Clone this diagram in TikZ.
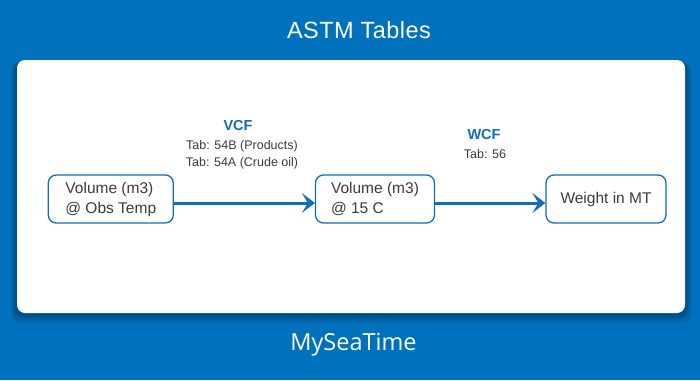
\documentclass[tikz,border=0pt]{standalone}
\usepackage{fontspec}
\setmainfont{Liberation Sans}
\newfontfamily\footfont{Open Sans}
\usetikzlibrary{arrows.meta}
\definecolor{bgblue}{RGB}{0,113,188}
\definecolor{lineblue}{RGB}{18,110,182}
\definecolor{txtgray}{RGB}{60,60,60}
\tikzset{
  flowbox/.style={draw=lineblue, line width=1.3pt, rounded corners=8pt, fill=white,
    minimum height=48pt, inner xsep=4pt, inner ysep=0pt, text=txtgray,
    font=\fontsize{15.5}{20}\selectfont},
  flowarrow/.style={draw=lineblue, line width=3pt,
    -{Stealth[length=13pt,width=20pt,inset=6pt]}},
  factor/.style={text=lineblue, font=\fontsize{14.5}{16}\selectfont\bfseries},
  tabtxt/.style={text=txtgray, font=\fontsize{12.5}{17}\selectfont, align=center, inner sep=0pt}
}
\begin{document}
\begin{tikzpicture}[x=1pt,y=-1pt]
\useasboundingbox (0,0) rectangle (700,380);
\fill[bgblue] (0,0) rectangle (700,380);
% shadow
\foreach \i in {1,...,10}{
  \fill[black, opacity=0.035, rounded corners=8pt]
    (17-\i*0.6,60+2) rectangle (685+\i*0.6,313+\i*1.0);
}
\fill[white, rounded corners=8pt] (17,60) rectangle (685,313);
\node[text=white, font=\fontsize{23.5}{26}\selectfont\addfontfeature{LetterSpace=2}] (title) at (359,30) {ASTM Tables};
\node[text=white, font=\footfont\fontsize{23.5}{26}\selectfont] (foot) at (353.5,345) {MySeaTime};

\node[flowbox, minimum width=125pt, align=left] (b1) at (110.8,199) {Volume (m3)\\@ Obs Temp};
\node[flowbox, minimum width=119pt, align=left] (b2) at (375,199) {Volume (m3)\\@ 15 C};
\node[flowbox, minimum width=120pt, align=center] (b3) at (606,199) {Weight in MT};

\draw[flowarrow] ([yshift=-4pt]b1.east) -- ([yshift=-4pt]b2.west);
\draw[flowarrow] ([yshift=-4pt]b2.east) -- ([yshift=-4pt]b3.west);

\node[factor] (vcf) at (238,126) {VCF};
\node[tabtxt] (vtab) at (242,155) {Tab: 54B (Products)\\Tab: 54A (Crude oil)};
\node[factor] (wcf) at (484,135) {WCF};
\node[tabtxt] (wtab) at (485,154) {Tab: 56};
\end{tikzpicture}
\end{document}
